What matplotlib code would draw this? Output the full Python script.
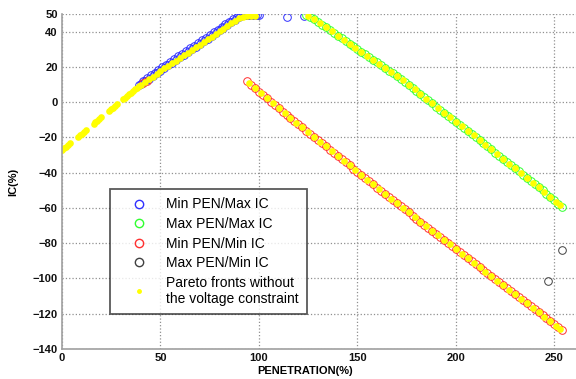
import matplotlib
matplotlib.use("Agg")
import matplotlib.pyplot as plt
from matplotlib.lines import Line2D

# Min PEN / Max IC
blue_x = [39, 40, 41, 42, 43, 44, 45, 46, 47, 48, 49, 50, 51, 52, 53, 54, 55, 56, 57, 58,
          59, 60, 61, 62, 63, 64, 65, 66, 67, 68, 69, 70, 71, 72, 73, 74, 75, 76, 77, 78,
          79, 80, 81, 82, 83, 84, 85, 86, 87, 88, 89, 90, 91, 92, 93, 94, 95, 96, 97, 98,
          99, 100, 114, 123]
blue_y = [10.0, 10.3, 12.0, 11.8, 13.7, 13.3, 15.3, 14.8, 16.8, 16.3, 18.3, 17.9, 19.8, 19.4,
          21.3, 20.9, 22.9, 22.4, 24.4, 23.9, 25.9, 25.5, 27.4, 27.0, 28.9, 28.5, 30.5, 30.0,
          32.0, 31.5, 33.5, 33.1, 35.0, 34.6, 36.5, 36.1, 38.1, 37.6, 39.6, 39.1, 41.1, 40.7,
          42.6, 42.2, 44.1, 43.7, 45.7, 45.2, 47.0, 46.7, 48.3, 48.3, 49.3, 49.5, 49.6, 49.5,
          49.6, 49.5, 49.6, 49.5, 49.6, 49.5, 48.2, 49.0]

# Max PEN / Max IC
green_x = [124, 126, 128, 130, 132, 134, 136, 138, 140, 142, 144, 146, 148, 150, 152, 154,
           156, 158, 160, 162, 164, 166, 168, 170, 172, 174, 176, 178, 180, 182, 184, 186,
           188, 190, 192, 194, 196, 198, 200, 202, 204, 206, 208, 210, 212, 214, 216, 218,
           220, 222, 224, 226, 228, 230, 232, 234, 236, 238, 240, 242, 244, 246, 248, 250,
           252, 254]
green_y = [49.5, 48.3, 46.9, 45.5, 44.0, 42.4, 40.9, 39.3, 37.8, 36.3, 34.7, 33.2, 31.7, 30.2,
           28.6, 27.1, 25.6, 24.0, 22.5, 21.0, 19.4, 17.9, 16.4, 14.8, 13.1, 11.5, 9.8, 8.2,
           6.5, 4.7, 2.9, 1.1, -0.7, -2.5, -4.2, -5.9, -7.6, -9.3, -11.0, -12.8, -14.5, -16.3,
           -18.0, -19.8, -21.6, -23.3, -25.1, -26.8, -28.6, -30.4, -32.2, -34.0, -35.7, -37.5,
           -39.3, -41.1, -42.9, -44.7, -46.5, -48.3, -50.1, -51.9, -53.7, -55.5, -57.5, -59.5]

# Min PEN / Min IC
red_x = [41, 43, 94, 96, 98, 100, 102, 104, 106, 108, 110, 112, 114, 116, 118, 120, 122, 124,
         126, 128, 130, 132, 134, 136, 138, 140, 142, 144, 146, 148, 150, 152, 154, 156, 158,
         160, 162, 164, 166, 168, 170, 172, 174, 176, 178, 180, 182, 184, 186, 188, 190, 192,
         194, 196, 198, 200, 202, 204, 206, 208, 210, 212, 214, 216, 218, 220, 222, 224, 226,
         228, 230, 232, 234, 236, 238, 240, 242, 244, 246, 248, 250, 252, 254]
red_y = [11.0, 12.0, 12.0, 10.0, 8.0, 6.0, 4.1, 2.2, 0.3, -1.6, -3.5, -5.3, -7.1, -8.9, -10.7,
         -12.5, -14.3, -16.1, -17.9, -19.7, -21.5, -23.3, -25.1, -26.9, -28.7, -30.5, -32.3,
         -34.1, -35.9, -37.7, -39.5, -41.3, -43.1, -44.9, -46.7, -48.5, -50.3, -52.0, -53.8,
         -55.5, -57.3, -59.0, -60.8, -62.5, -64.3, -66.0, -67.7, -69.5, -71.2, -73.0, -74.7,
         -76.4, -78.2, -79.9, -81.6, -83.3, -85.0, -86.8, -88.5, -90.3, -92.0, -93.7, -95.4,
         -97.1, -98.8, -100.5, -102.2, -103.9, -105.6, -107.3, -109.0, -110.7, -112.4, -114.1,
         -115.8, -117.5, -119.2, -120.9, -122.6, -124.3, -126.0, -127.8, -129.5]

# Max PEN / Min IC
black_x = [254, 247]
black_y = [-84.0, -101.5]

# Pareto fronts without the voltage constraint
yel_up_x = [0, 1, 2, 3, 4, 8, 9, 10, 11, 12, 16, 17, 18, 19, 20, 24, 25, 26, 27, 28, 31, 32,
            33, 34, 35, 36, 37, 38, 39, 40, 42, 44, 46, 48, 50, 52, 54, 56, 58, 60, 62, 64,
            66, 68, 70, 72, 74, 76, 78, 80, 82, 84, 86, 88, 90, 92, 94, 96, 98]
yel_up_y = [-27.0, -26.1, -25.2, -24.3, -23.4, -19.7, -18.8, -17.8, -16.9, -16.0, -12.3, -11.4,
            -10.5, -9.5, -8.6, -4.9, -4.0, -3.1, -2.1, -1.2, 1.6, 2.5, 3.5, 4.4, 5.4, 6.3, 7.3,
            8.2, 9.1, 10.0, 11.5, 13.0, 14.5, 16.0, 17.6, 19.1, 20.6, 22.1, 23.6, 25.1, 26.6,
            28.1, 29.7, 31.2, 32.7, 34.2, 35.7, 37.2, 38.7, 40.2, 41.7, 43.2, 44.8, 46.3,
            47.6, 48.5, 48.8, 48.8, 48.8]
yel_mid_x = [125, 128, 131, 134, 137, 140, 143, 146, 149, 152, 155, 158, 161, 164, 167, 170,
             173, 176, 179, 182, 185, 188, 191, 194, 197, 200, 203, 206, 209, 212, 215, 218,
             221, 224, 227, 230, 233, 236, 239, 242, 245, 248, 251, 253]
yel_mid_y = [49.0, 46.9, 44.7, 42.4, 40.1, 37.8, 35.5, 33.2, 30.9, 28.6, 26.3, 24.0, 21.7,
             19.4, 17.1, 14.8, 12.3, 9.8, 7.3, 4.7, 2.0, -0.7, -3.3, -5.9, -8.5, -11.0, -13.6,
             -16.3, -18.9, -21.6, -24.2, -26.8, -29.5, -32.2, -34.9, -37.5, -40.2, -42.9,
             -45.6, -48.3, -51.0, -53.7, -56.5, -58.5]
yel_low_x = [95, 98, 101, 104, 107, 110, 113, 116, 119, 122, 125, 128, 131, 134, 137, 140,
             143, 146, 149, 152, 155, 158, 161, 164, 167, 170, 173, 176, 179, 182, 185, 188,
             191, 194, 197, 200, 203, 206, 209, 212, 215, 218, 221, 224, 227, 230, 233, 236,
             239, 242, 245, 248, 251, 253]
yel_low_y = [11.0, 8.0, 5.0, 2.2, -0.6, -3.5, -6.2, -8.9, -11.6, -14.3, -17.0, -19.7, -22.4,
             -25.1, -27.8, -30.5, -33.2, -35.9, -38.6, -41.3, -44.0, -46.7, -49.4, -52.0,
             -54.7, -57.3, -59.9, -62.5, -65.1, -67.7, -70.3, -73.0, -75.6, -78.2, -80.7,
             -83.3, -85.9, -88.5, -91.1, -93.7, -96.3, -98.8, -101.4, -103.9, -106.5, -109.0,
             -111.6, -114.1, -116.7, -119.2, -121.8, -124.3, -126.9, -128.6]

xticks = [0, 50, 100, 150, 200, 250]
yticks = [-140, -120, -100, -80, -60, -40, -20, 0, 20, 40, 50]

plt.rcParams['font.family'] = ['Liberation Sans', 'DejaVu Sans']

fig = plt.figure(figsize=(5.76, 3.79), dpi=100)
ax = fig.add_axes([62 / 576, 30 / 379, 514 / 576, 335 / 379])

ms = 5.5
ax.plot(blue_x, blue_y, 'o', mfc='none', mec='#3030ff', mew=0.7, ms=ms)
ax.plot(green_x, green_y, 'o', mfc='none', mec='#30ff30', mew=0.7, ms=ms)
ax.plot(red_x, red_y, 'o', mfc='none', mec='#ff3030', mew=0.7, ms=ms)
ax.plot(black_x, black_y, 'o', mfc='none', mec='#404040', mew=0.7, ms=ms)
yel_x = yel_up_x + yel_mid_x + yel_low_x
yel_y = yel_up_y + yel_mid_y + yel_low_y
ax.plot(yel_x, yel_y, 'o', color='#ffff00', mec='none', ms=4.8)

ax.set_xlim(0, 261)
ax.set_ylim(-140, 50)
ax.set_xticks(xticks)
ax.set_yticks(yticks)
ax.grid(True, color='#909090', linestyle=':', linewidth=0.9)
ax.tick_params(length=0, labelsize=8, pad=3, colors='#111111')
for lab in ax.get_xticklabels() + ax.get_yticklabels():
    lab.set_fontweight('bold')
for s in ['top', 'right']:
    ax.spines[s].set_visible(False)
for s in ['left', 'bottom']:
    ax.spines[s].set_color('#a0a0a0')
    ax.spines[s].set_linewidth(1.2)

ax.set_xlabel('PENETRATION(%)', fontsize=8, fontweight='bold')
ax.xaxis.set_label_coords((305 - 62) / 514, -0.05)
ax.set_ylabel('IC(%)', fontsize=8, fontweight='bold')
ax.yaxis.set_label_coords(-0.085, 0.5)

handles = [
    Line2D([], [], ls='none', marker='o', mfc='none', mec='#3030ff', mew=1.0, ms=6),
    Line2D([], [], ls='none', marker='o', mfc='none', mec='#30ff30', mew=1.0, ms=6),
    Line2D([], [], ls='none', marker='o', mfc='none', mec='#ff3030', mew=1.0, ms=6),
    Line2D([], [], ls='none', marker='o', mfc='none', mec='#404040', mew=1.0, ms=6),
    Line2D([], [], ls='none', marker='.', color='#ffff00', ms=5),
]
labels = ['Min PEN/Max IC', 'Max PEN/Max IC', 'Min PEN/Min IC', 'Max PEN/Min IC',
          'Pareto fronts without\nthe voltage constraint']
leg = ax.legend(handles, labels, loc='lower left', bbox_to_anchor=(0.093, 0.104),
                fontsize=10, frameon=True, fancybox=False, borderpad=0.6,
                handletextpad=0.43, labelspacing=0.4, handlelength=3.0, borderaxespad=0)
leg.get_frame().set_edgecolor('#303030')
leg.get_frame().set_linewidth(1.3)

fig.savefig('out.png', dpi=100)
